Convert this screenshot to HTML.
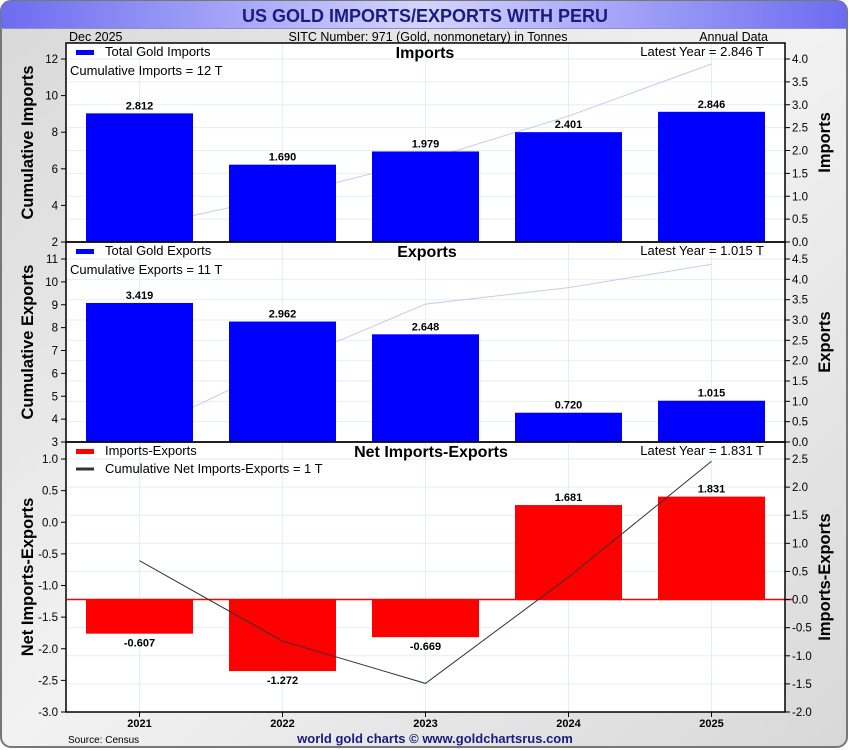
<!DOCTYPE html>
<html><head><meta charset="utf-8"><style>
body{margin:0;background:#fff;}
svg{display:block;font-family:"Liberation Sans",sans-serif;}
</style></head><body>
<svg id="c" width="850" height="750" viewBox="0 0 850 750">
<defs>
<linearGradient id="bg" x1="0" y1="0" x2="1" y2="1"><stop offset="0" stop-color="#d8d8d8"/><stop offset="0.5" stop-color="#f2f2f2"/><stop offset="1" stop-color="#d8d8d8"/></linearGradient>
<linearGradient id="tb" x1="0" y1="0" x2="1" y2="0"><stop offset="0" stop-color="#6c6cf0"/><stop offset="0.5" stop-color="#d4d4ff"/><stop offset="1" stop-color="#6c6cf0"/></linearGradient>
</defs>
<rect x="1" y="1" width="846" height="746" rx="10" fill="url(#bg)" stroke="#777" stroke-width="2"/>
<path d="M1,28 L1,11 Q1,1 11,1 L837,1 Q847,1 847,11 L847,28 Z" fill="url(#tb)"/>
<line x1="1" y1="28.5" x2="847" y2="28.5" stroke="#9090c0"/>
<text x="425" y="22" text-anchor="middle" font-size="18" font-weight="bold" fill="#1a1a80">US GOLD IMPORTS/EXPORTS WITH PERU</text>
<text x="69" y="41" font-size="12.5">Dec  2025</text>
<text x="428" y="41" font-size="12.5" text-anchor="middle">SITC Number: 971 (Gold, nonmonetary) in Tonnes</text>
<text x="768" y="41" font-size="12.5" text-anchor="end">Annual Data</text>
<rect x="66" y="43" width="719" height="669" fill="#fff"/>
<g id="g"></g>
<text x="68" y="743" font-size="10">Source: Census</text>
<text x="435" y="743" font-size="13" font-weight="bold" fill="#1a1a80" text-anchor="middle">world gold charts © www.goldchartsrus.com</text>
</svg>
<script>
const years=["2021","2022","2023","2024","2025"];
const imports=[2.812,1.690,1.979,2.401,2.846];
const exportsV=[3.419,2.962,2.648,0.720,1.015];
const netV=[-0.607,-1.272,-0.669,1.681,1.831];
const cumImports=[2.812,4.502,6.481,8.882,11.728];
const cumExports=[3.419,6.381,9.029,9.749,10.764];
const cumNet=[-0.607,-1.879,-2.548,-0.867,0.964];
const impLeftTicks=[2,4,6,8,10,12];
const impRightTicks=[0,0.5,1,1.5,2,2.5,3,3.5,4];
const expLeftTicks=[3,4,5,6,7,8,9,10,11];
const expRightTicks=[0,0.5,1,1.5,2,2.5,3,3.5,4,4.5];
const netLeftTicks=[-3,-2.5,-2,-1.5,-1,-0.5,0,0.5,1];
const netRightTicks=[-2,-1.5,-1,-0.5,0,0.5,1,1.5,2,2.5];

const NS="http://www.w3.org/2000/svg";
const G=document.getElementById('g');
function el(t,a,txt){const e=document.createElementNS(NS,t);for(const k in a)e.setAttribute(k,a[k]);if(txt!==undefined)e.textContent=txt;G.appendChild(e);return e;}
const X0=66,X1=785,step=143,BW=107;
function xc(i){return 139.5+step*i;}
function lin(d0,d1,p0,p1){return v=>p0+(v-d0)*(p1-p0)/(d1-d0);}

function panel(o){
  const yl=lin(o.l0,o.l1,o.bot,o.ltop), yr=lin(o.r0,o.r1,o.bot,o.rtop);
  o.rt.forEach(v=>{const y=yr(v);if(y>o.top+1&&y<o.bot-1){const g=el('line',{x1:X0,x2:X1,y1:y,y2:y,stroke:'#e4eef8'});}});
  years.forEach((yv,i)=>{const g=el('line',{x1:xc(i),x2:xc(i),y1:o.top,y2:o.bot,stroke:'#e4eef8'});});
  const pts=o.cum.map((v,i)=>xc(i)+','+yl(v)).join(' ');
  const pl=el('polyline',{points:pts,fill:'none',stroke:o.lineColor,'stroke-width':1});
  
  
  o.vals.forEach((v,i)=>{
    const y0=yr(0),y=yr(v);
    const b=el('rect',{x:xc(i)-BW/2,y:Math.min(y,y0),width:BW,height:Math.abs(y-y0),fill:o.color});
    
    
    const t=el('text',{x:xc(i),y:v>=0?y-4:y+13,'text-anchor':'middle','font-size':11,'font-weight':'bold'},v.toFixed(3));
    
    
  });
  if(o.zeroLine){const z=el('line',{x1:X0+1,x2:X1+8,y1:yr(0),y2:yr(0),stroke:'#ff0000','stroke-width':1.5});}
  if(o.lineOnTop){G.appendChild(pl);}
  const f=el('rect',{x:X0,y:o.top,width:X1-X0,height:o.bot-o.top,fill:'none',stroke:'#000','stroke-width':1.5});
  
  o.lt.forEach(v=>{const y=yl(v);el('line',{x1:X0-5,x2:X0,y1:y,y2:y,stroke:'#000'});
    const t=el('text',{x:X0-8,y:y+4,'text-anchor':'end','font-size':11.5},o.lfmt(v));});
  o.rt.forEach(v=>{const y=yr(v);el('line',{x1:X1,x2:X1+5,y1:y,y2:y,stroke:'#000'});
    const t=el('text',{x:X1+7,y:y+4,'font-size':11.5},v.toFixed(1));});
  const cy=(o.top+o.bot)/2;
  const lt=el('text',{transform:`translate(33,${cy}) rotate(-90)`,'text-anchor':'middle','font-size':16.5,'font-weight':'bold'},o.ltitle);
  
  const rt=el('text',{transform:`translate(830,${cy}) rotate(-90)`,'text-anchor':'middle','font-size':16.5,'font-weight':'bold'},o.rtitle);
  
  const tt=el('text',{x:o.titleX,y:o.top+15,'text-anchor':'middle','font-size':16,'font-weight':'bold'},o.title);
  
  el('rect',{x:76,y:o.top+7,width:18,height:5,fill:o.color});
  const lg=el('text',{x:105,y:o.top+13,'font-size':13},o.legend);
  
  const lt2=el('text',{x:764,y:o.top+13,'font-size':13,'text-anchor':'end'},'Latest Year = '+o.vals[o.vals.length-1].toFixed(3)+' T');
  
  if(o.cumText){const c=el('text',{x:70,y:o.top+32,'font-size':13},o.cumText);}
  if(o.cumLegend){el('line',{x1:76,x2:94,y1:o.top+27,y2:o.top+27,stroke:'#333','stroke-width':3});
    const c=el('text',{x:105,y:o.top+31,'font-size':13},o.cumLegend);}
}
panel({name:'imports',top:43,bot:242,l0:2,l1:12,ltop:59,r0:0,r1:4,rtop:59,vals:imports,cum:cumImports,color:'#0000ff',lineColor:'#c8c8f4',
  lt:impLeftTicks,rt:impRightTicks,lfmt:v=>String(v),ltitle:'Cumulative Imports',rtitle:'Imports',title:'Imports',titleX:425,legend:'Total Gold Imports',
  cumText:'Cumulative Imports = '+Math.round(cumImports[4])+' T'});
panel({name:'exports',top:242,bot:442,l0:3,l1:11,ltop:259,r0:0,r1:4.5,rtop:259,vals:exportsV,cum:cumExports,color:'#0000ff',lineColor:'#c8c8f4',
  lt:expLeftTicks,rt:expRightTicks,lfmt:v=>String(v),ltitle:'Cumulative Exports',rtitle:'Exports',title:'Exports',titleX:427,legend:'Total Gold Exports',
  cumText:'Cumulative Exports = '+Math.round(cumExports[4])+' T'});
panel({name:'net',top:442,bot:712,l0:-3,l1:1,ltop:459,r0:-2,r1:2.5,rtop:459,vals:netV,cum:cumNet,color:'#ff0000',lineColor:'#333',lineOnTop:true,zeroLine:true,
  lt:netLeftTicks,rt:netRightTicks,lfmt:v=>v.toFixed(1),ltitle:'Net Imports-Exports',rtitle:'Imports-Exports',title:'Net Imports-Exports',titleX:431,legend:'Imports-Exports',
  cumLegend:'Cumulative Net Imports-Exports = '+Math.round(cumNet[4])+' T'});
years.forEach((yv,i)=>{el('line',{x1:xc(i),x2:xc(i),y1:712,y2:717,stroke:'#000'});
  const t=el('text',{x:xc(i),y:727,'text-anchor':'middle','font-size':11,'font-weight':'bold'},yv);
  });
</script>
</body></html>
